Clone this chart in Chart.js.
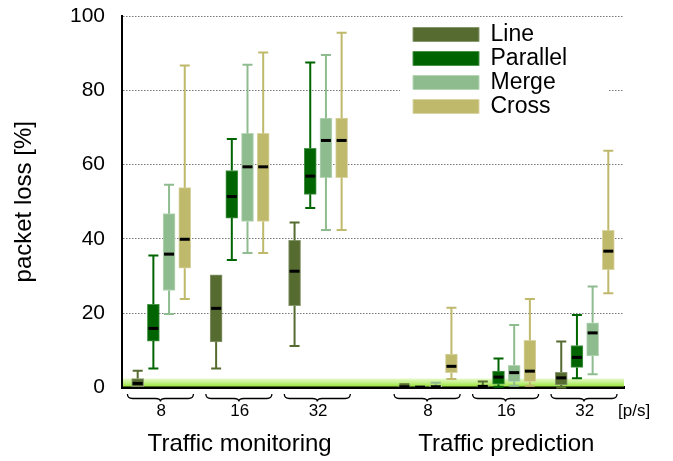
<!DOCTYPE html>
<html><head><meta charset="utf-8">
<script src="https://cdn.jsdelivr.net/npm/chart.js@4/dist/chart.umd.min.js"></script>
<style>html,body{margin:0;padding:0;background:#fff}canvas{display:block}</style>
</head><body>
<canvas id="c" width="673" height="461"></canvas>
<script>
// ---- data ----
const groupLabels = ['8', '16', '32', '8', '16', '32'];
const sectionLabels = ['Traffic monitoring', 'Traffic prediction'];
const unitLabel = '[p/s]';
const seriesNames = ['Line', 'Parallel', 'Merge', 'Cross'];
const yTicks = [0, 20, 40, 60, 80, 100];
const yLabel = 'packet loss [%]';
// each entry: [min, q1, median, q3, max] per group
const lineStats = [
  [0, 0, 1.1, 2.4, 4.5],
  [5.1, 12.3, 21.3, 30.3, 30.3],
  [11.2, 22.0, 31.3, 39.6, 44.4],
  [0, 0, 0.2, 0.5, 0.9],
  [0, 0, 0.3, 0.5, 1.6],
  [0, 0.7, 2.6, 4.1, 12.4]
];
const parallelStats = [
  [5.1, 12.5, 15.9, 22.4, 35.5],
  [34.3, 45.6, 51.4, 58.4, 66.9],
  [48.3, 52.0, 56.9, 64.4, 87.5],
  [0, 0, 0.1, 0.3, 0.3],
  [0.2, 0.9, 2.8, 4.4, 7.8],
  [2.5, 5.4, 8.1, 11.3, 19.5]
];
const mergeStats = [
  [19.8, 26.1, 35.9, 46.8, 54.6],
  [36.2, 44.7, 59.4, 68.4, 86.9],
  [42.4, 56.5, 66.5, 72.5, 89.5],
  [0, 0, 0.2, 0.5, 1.3],
  [0.5, 1.6, 4.0, 6.0, 16.8],
  [3.6, 8.5, 14.7, 17.4, 27.2]
];
const crossStats = [
  [23.8, 32.1, 39.9, 53.8, 86.7],
  [36.2, 44.7, 59.4, 68.4, 90.2],
  [42.4, 56.5, 66.5, 72.5, 95.5],
  [2.3, 4.0, 5.7, 9.0, 21.5],
  [0.5, 1.6, 4.4, 12.7, 23.8],
  [25.4, 31.7, 36.7, 42.3, 63.7]
];
const bandLimit = 2.4;

// ---- styling ----
const FONT = "'Liberation Sans', Arial, Helvetica, sans-serif";
const seriesStats = [lineStats, parallelStats, mergeStats, crossStats];
const fillColors = ['#566b30', '#006400', '#8fbc8f', '#bfb96c'];
const edgeColors = ['#8a9870', '#4a954a', '#b6d6b6', '#d9d4a2'];

function groupStart(g) { return 1 + g * 5 + (g >= 3 ? 2 : 0); }
function groupCenter(g) { return groupStart(g) + 1.5; }

const datasets = seriesNames.map((name, s) => ({
  label: name,
  data: seriesStats[s].map((st, g) => ({ x: groupStart(g) + s, y: [st[1], st[3]] })),
  backgroundColor: fillColors[s],
  borderColor: edgeColors[s],
  borderWidth: 1,
  borderSkipped: false,
  barThickness: 12,
  grouped: false
}));

const boxPlugin = {
  id: 'boxplotExtras',
  afterLayout(chart) {
    const lg = chart.legend;
    if (!lg) return;
    lg.left = 412; lg.right = lg.left + lg.width;
    lg.top = 22; lg.bottom = lg.top + lg.height;
    if (!lg._bgPatched) {
      const orig = lg.draw;
      lg.draw = function (area) {
        const c = this.ctx;
        c.save();
        c.fillStyle = '#fff';
        c.fillRect(this.left - 12, this.top - 2, 208, 4 * 24 + 4);
        c.restore();
        orig.call(this, area);
      };
      lg._bgPatched = true;
    }
  },
  beforeDatasetsDraw(chart) {
    const { ctx, chartArea } = chart;
    const ys = chart.scales.y;
    const yt = ys.getPixelForValue(bandLimit);
    const yb = ys.getPixelForValue(0) - 1;
    const grad = ctx.createLinearGradient(0, yt, 0, yb);
    grad.addColorStop(0, '#e4f9c8');
    grad.addColorStop(0.5, '#c4f088');
    grad.addColorStop(1, '#98e53a');
    ctx.save();
    ctx.fillStyle = grad;
    ctx.fillRect(chartArea.left + 1, yt, chartArea.right - chartArea.left - 1, yb - yt);
    ctx.restore();
  },
  afterDatasetsDraw(chart) {
    const ctx = chart.ctx;
    const xs = chart.scales.x, ys = chart.scales.y;
    ctx.save();
    seriesStats.forEach((stats, s) => {
      stats.forEach((st, g) => {
        const px = xs.getPixelForValue(groupStart(g) + s);
        const [mn, q1, md, q3, mx] = st.map(v => ys.getPixelForValue(v));
        ctx.strokeStyle = fillColors[s];
        ctx.lineWidth = 2;
        ctx.lineCap = 'butt';
        if (q3 - mx > 0.5) {
          ctx.beginPath();
          ctx.moveTo(px, q3); ctx.lineTo(px, mx);
          ctx.moveTo(px - 5, mx); ctx.lineTo(px + 5, mx);
          ctx.stroke();
        }
        if (mn - q1 > 0.5) {
          ctx.beginPath();
          ctx.moveTo(px, q1); ctx.lineTo(px, mn);
          ctx.moveTo(px - 5, mn); ctx.lineTo(px + 5, mn);
          ctx.stroke();
        }
        ctx.strokeStyle = '#000';
        ctx.lineWidth = 3;
        ctx.beginPath();
        ctx.moveTo(px - 5, md); ctx.lineTo(px + 5, md);
        ctx.stroke();
      });
    });
    ctx.restore();
  },
  afterDraw(chart) {
    const ctx = chart.ctx;
    const xs = chart.scales.x;
    const top = xs.top;
    const y0 = top + 6.5, y1 = top + 11, y2 = top + 14, r = 5;
    ctx.save();
    ctx.strokeStyle = '#000';
    ctx.lineWidth = 1.3;
    groupLabels.forEach((_, g) => {
      const xc = xs.getPixelForValue(groupCenter(g) - 0.05);
      const a = xc - 33, b = xc + 33;
      ctx.beginPath();
      ctx.moveTo(a, y0);
      ctx.quadraticCurveTo(a, y1, a + r, y1);
      ctx.lineTo(xc - r, y1);
      ctx.quadraticCurveTo(xc, y1, xc, y2);
      ctx.quadraticCurveTo(xc, y1, xc + r, y1);
      ctx.lineTo(b - r, y1);
      ctx.quadraticCurveTo(b, y1, b, y0);
      ctx.stroke();
    });
    ctx.fillStyle = '#000';
    ctx.font = '17px ' + FONT;
    ctx.textAlign = 'left';
    ctx.textBaseline = 'middle';
    ctx.fillText(unitLabel, xs.right - 6, top + 14 + 10.2);
    ctx.restore();
  }
};

new Chart(document.getElementById('c'), {
  type: 'bar',
  data: { datasets },
  plugins: [boxPlugin],
  options: {
    responsive: false,
    animation: false,
    devicePixelRatio: 1,
    layout: { padding: { top: 16, right: 49, left: 0, bottom: 0 } },
    plugins: {
      tooltip: { enabled: false },
      legend: {
        position: 'chartArea',
        align: 'start',
        labels: {
          boxWidth: 66, boxHeight: 14, padding: 1, color: '#000',
          font: { family: FONT, size: 23 }
        }
      }
    },
    scales: {
      x: {
        type: 'linear', position: 'bottom', min: 0, max: 32, offset: false, weight: 0,
        grid: { display: false, drawTicks: false },
        border: { display: true, color: '#000', width: 3 },
        afterBuildTicks: s => { s.ticks = groupLabels.map((_, g) => ({ value: groupCenter(g) })); },
        ticks: {
          autoSkip: false, maxRotation: 0, minRotation: 0, padding: 14, color: '#000',
          font: { family: FONT, size: 17 },
          callback: (v, i) => groupLabels[i]
        },
        afterFit: s => { s.height = 38; }
      },
      x2: {
        type: 'linear', position: 'bottom', min: 0, max: 32, offset: false, weight: 1,
        grid: { display: false, drawTicks: false },
        border: { display: false },
        afterBuildTicks: s => { s.ticks = sectionLabels.map((_, k) => ({ value: groupCenter(k * 3 + 1) })); },
        ticks: {
          autoSkip: false, maxRotation: 0, minRotation: 0, padding: 4, color: '#000',
          font: { family: FONT, size: 24 },
          callback: (v, i) => sectionLabels[i]
        },
        afterFit: s => { s.height = 35.5; }
      },
      y: {
        type: 'linear', min: 0, max: 100,
        afterBuildTicks: s => { s.ticks = yTicks.map(v => ({ value: v })); },
        ticks: { padding: 2, color: '#000', font: { family: FONT, size: 21 } },
        grid: { color: '#777', lineWidth: 1, drawTicks: true, tickLength: 15, tickColor: 'rgba(0,0,0,0)' },
        border: { display: true, color: '#000', width: 2, dash: [1.5, 1.5] },
        title: {
          display: true, text: yLabel, color: '#000',
          font: { family: FONT, size: 24 }, padding: { top: 10, bottom: 0 }
        },
        afterFit: s => { s.width = 122; }
      }
    }
  }
});
</script>
</body></html>
